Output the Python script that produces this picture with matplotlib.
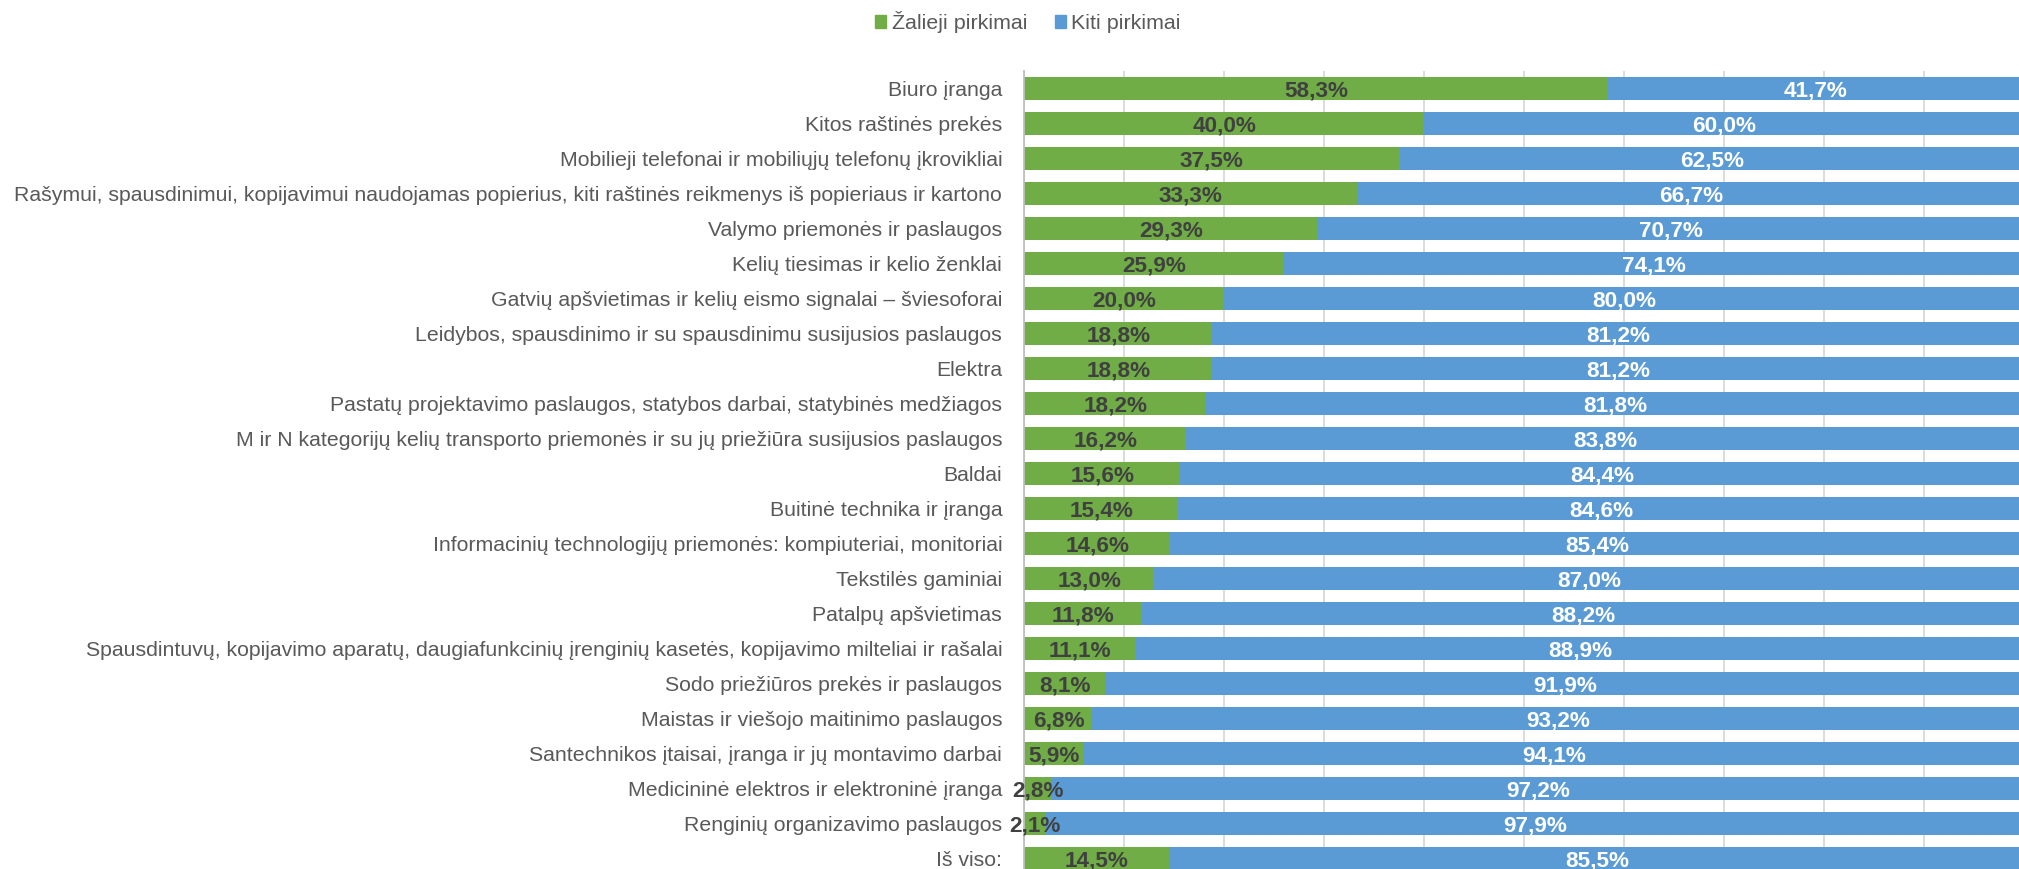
import matplotlib.pyplot as plt
from matplotlib.patches import Patch

categories = [
    'Biuro įranga',
    'Kitos raštinės prekės',
    'Mobilieji telefonai ir mobiliųjų telefonų įkrovikliai',
    'Rašymui, spausdinimui, kopijavimui naudojamas popierius, kiti raštinės reikmenys iš popieriaus ir kartono',
    'Valymo priemonės ir paslaugos',
    'Kelių tiesimas ir kelio ženklai',
    'Gatvių apšvietimas ir kelių eismo signalai – šviesoforai',
    'Leidybos, spausdinimo ir su spausdinimu susijusios paslaugos',
    'Elektra',
    'Pastatų projektavimo paslaugos, statybos darbai, statybinės medžiagos',
    'M ir N kategorijų kelių transporto priemonės ir su jų priežiūra susijusios paslaugos',
    'Baldai',
    'Buitinė technika ir įranga',
    'Informacinių technologijų priemonės: kompiuteriai, monitoriai',
    'Tekstilės gaminiai',
    'Patalpų apšvietimas',
    'Spausdintuvų, kopijavimo aparatų, daugiafunkcinių įrenginių kasetės, kopijavimo milteliai ir rašalai',
    'Sodo priežiūros prekės ir paslaugos',
    'Maistas ir viešojo maitinimo paslaugos',
    'Santechnikos įtaisai, įranga ir jų montavimo darbai',
    'Medicininė elektros ir elektroninė įranga',
    'Renginių organizavimo paslaugos',
    'Iš viso:',
]
green = [58.3, 40.0, 37.5, 33.3, 29.3, 25.9, 20.0, 18.8, 18.8, 18.2, 16.2, 15.6,
         15.4, 14.6, 13.0, 11.8, 11.1, 8.1, 6.8, 5.9, 2.8, 2.1, 14.5]
other = [41.7, 60.0, 62.5, 66.7, 70.7, 74.1, 80.0, 81.2, 81.2, 81.8, 83.8, 84.4,
         84.6, 85.4, 87.0, 88.2, 88.9, 91.9, 93.2, 94.1, 97.2, 97.9, 85.5]
series_names = ['Žalieji pirkimai', 'Kiti pirkimai']

c_green = '#70AD47'
c_blue = '#5B9BD5'
txt_gray = '#595959'

plt.rcParams['font.family'] = ['Liberation Sans', 'DejaVu Sans']

fig = plt.figure(figsize=(20.19, 8.69), dpi=100)
ax = fig.add_axes([0.5074, -0.0079, 0.4953, 0.9264])

y = list(range(len(categories)))
ax.barh(y, green, height=0.667, color=c_green, zorder=2)
ax.barh(y, other, left=green, height=0.667, color=c_blue, zorder=2)

# data labels, centred in each segment
lbl_font = dict(weight='bold', size=16.2)
for i in y:
    g = green[i]
    o = other[i]
    ax.text(g / 2, i, f'{g:.1f}%'.replace('.', ','), ha='center', va='center_baseline',
            color='#404040', zorder=3, **lbl_font)
    ax.text(g + o / 2, i, f'{o:.1f}%'.replace('.', ','), ha='center', va='center_baseline',
            color='white', zorder=3, **lbl_font)

ax.set_xlim(0, 100)
ax.set_ylim(len(categories) - 0.5, -0.5)
ax.set_xticks(range(0, 101, 10))
ax.xaxis.grid(True, color='#D9D9D9', linewidth=1.3)
ax.set_axisbelow(True)
ax.tick_params(axis='x', length=0, labelbottom=False)
ax.tick_params(axis='y', length=0, pad=16, labelsize=15.3, labelcolor=txt_gray)
ax.set_yticks(y)
ax.set_yticklabels(categories)
for s in ['top', 'right', 'bottom']:
    ax.spines[s].set_visible(False)
ax.spines['left'].set_color('#BFBFBF')
ax.spines['left'].set_linewidth(1.3)

handles = [Patch(color=c_green), Patch(color=c_blue)]
fig.legend(handles, series_names, loc='center', bbox_to_anchor=(1028 / 2019, 1 - 22 / 869),
           ncol=2, frameon=False, fontsize=15.4, labelcolor=txt_gray,
           handlelength=0.52, handleheight=0.52, handletextpad=0.25, columnspacing=1.3)

fig.savefig('out.png', dpi=100)
